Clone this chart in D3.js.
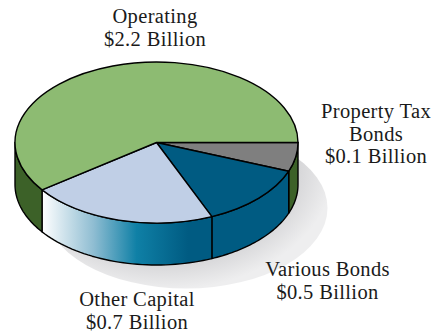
<!DOCTYPE html>
<html>
<head>
<meta charset="utf-8">
<script src="https://cdn.jsdelivr.net/npm/d3@7"></script>
<style>
  html, body { margin: 0; padding: 0; background: #fff; }
  text { font-family: "Liberation Serif", serif; font-size: 20.5px; letter-spacing: 0.35px; fill: #1a1a1a; }
</style>
</head>
<body>
<div id="chart"></div>
<script>
// Set information for frame and pie shape
const FRAME_WIDTH = 435;
const FRAME_HEIGHT = 331;
const CX = 156.5, CY = 142.5, RX = 141.5, RY = 80.5, DEPTH = 42;

// Slice order runs clockwise from the right hand edge
const categories = ["Property Tax Bonds", "Various Bonds", "Other Capital", "Operating"];
const amounts = ["$0.1 Billion", "$0.5 Billion", "$0.7 Billion", "$2.2 Billion"];
// Shares as drawn in the picture (percent of the pie)
const shares = [5.8, 12.8, 21.4, 60];
const topColors = ["#7f7f7f", "#005b82", "#c0cfe6", "#8dbb72"];
const sideFills = ["#3c6128", "#005b82", "url(#sideFade)", "#3c6128"];
// Label lines and anchor points
const labelLines = [["Property Tax", "Bonds", amounts[0]], ["Various Bonds", amounts[1]],
                    ["Other Capital", amounts[2]], ["Operating", amounts[3]]];
const labelPos = [[376, 118], [327.5, 276], [137, 306], [155, 23]];

const FRAME = d3.select("#chart")
    .append("svg")
      .attr("width", FRAME_WIDTH)
      .attr("height", FRAME_HEIGHT)
      .style("display", "block");

const defs = FRAME.append("defs");

// Fade on the front wall of the Other Capital slice
const fade = defs.append("linearGradient")
    .attr("id", "sideFade")
    .attr("gradientUnits", "userSpaceOnUse")
    .attr("x1", 42).attr("x2", 214).attr("y1", 0).attr("y2", 0);
[[0, "#ffffff"], [0.3, "#8fbdd2"], [0.55, "#0f80a6"], [0.85, "#005b82"], [1, "#005b82"]].forEach((s) => {
    fade.append("stop").attr("offset", s[0]).attr("stop-color", s[1]);
});

// Shadow under the pie
const shade = defs.append("radialGradient")
    .attr("id", "shadowFade")
    .attr("gradientUnits", "userSpaceOnUse")
    .attr("cx", 0).attr("cy", 0).attr("r", 1)
    .attr("gradientTransform", "translate(165,165) scale(170,125)");
[[0.6, "#b8b8bc"], [0.8, "#d8d8da"], [1, "#eeeeef"]].forEach((s) => {
    shade.append("stop").attr("offset", s[0]).attr("stop-color", s[1]);
});

FRAME.append("ellipse")
    .attr("cx", 186).attr("cy", 208)
    .attr("rx", RX).attr("ry", RY)
    .attr("fill", "url(#shadowFade)");

const pie = d3.pie()
    .sort(null)
    .startAngle(Math.PI / 2)
    .endAngle(Math.PI * 2.5);
const slices = pie(shares);

// Point on the ellipse for a d3 pie angle
const rimX = (a) => CX + RX * Math.sin(a);
const rimY = (a) => CY - RY * Math.cos(a);
const rimLine = d3.line().x((a) => rimX(a)).y((a) => rimY(a));
const lowLine = d3.line().x((a) => rimX(a)).y((a) => rimY(a) + DEPTH);

// Walls, only the front half of the pie is visible
const wallPath = (d) => {
    const a0 = d.startAngle;
    const a1 = Math.min(d.endAngle, Math.PI * 1.5);
    const steps = d3.range(0, 41).map((i) => a0 + (a1 - a0) * i / 40);
    return rimLine(steps) + "L" + lowLine(steps.slice().reverse()).slice(1) + "Z";
};

FRAME.append("g").selectAll("path")
    .data(slices)
    .enter()
    .append("path")
      .attr("d", wallPath)
      .attr("fill", (d, i) => sideFills[i])
      .attr("stroke", "#000")
      .attr("stroke-width", 1.4)
      .attr("stroke-linejoin", "round");

// Top face, a circle pie squashed into the ellipse
const arc = d3.arc().innerRadius(0).outerRadius(RX);

FRAME.append("g")
    .attr("transform", "translate(" + CX + "," + CY + ") scale(1," + (RY / RX) + ")")
    .selectAll("path")
    .data(slices)
    .enter()
    .append("path")
      .attr("d", arc)
      .attr("fill", (d, i) => topColors[i])
      .attr("stroke", "#000")
      .attr("stroke-width", 1.4)
      .attr("stroke-linejoin", "round")
      .attr("vector-effect", "non-scaling-stroke");

// Labels
const labels = FRAME.append("g").selectAll("text")
    .data(categories)
    .enter()
    .append("text")
      .attr("text-anchor", "middle")
      .attr("transform", (d, i) => "translate(" + labelPos[i][0] + "," + labelPos[i][1] + ")");

labels.selectAll("tspan")
    .data((d, i) => labelLines[i])
    .enter()
    .append("tspan")
      .attr("x", 0)
      .attr("y", (d, i) => i * 22.5)
      .text((d) => d);
</script>
</body>
</html>
